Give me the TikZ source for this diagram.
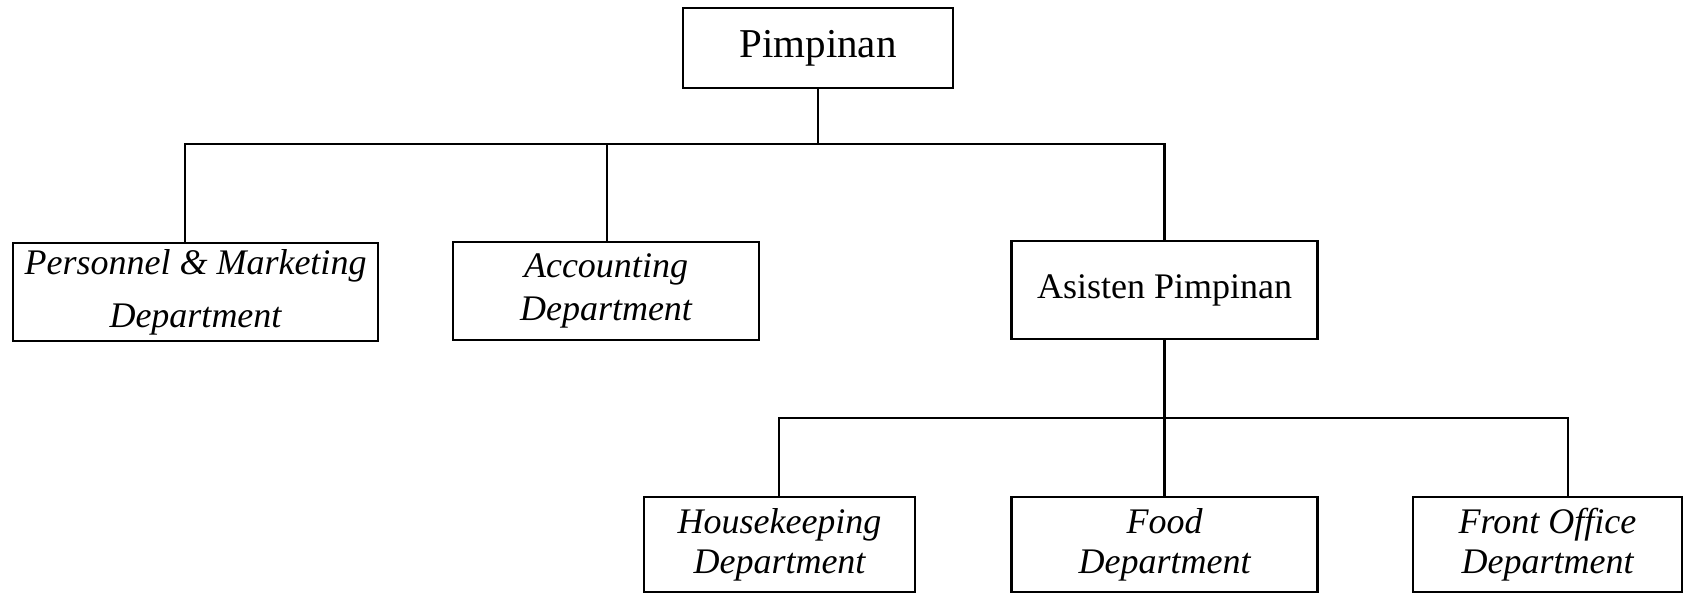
\documentclass[tikz,border=0pt]{standalone}
\usepackage{fontspec}
\setmainfont{Liberation Serif}
\begin{document}
\begin{tikzpicture}[x=0.5pt,y=-0.5pt,
  box/.style={draw,line width=1.1pt,rectangle,inner sep=0pt,align=center},
  conn/.style={line width=1.1pt},
  dept/.style={box,font=\itshape\fontsize{18}{21.5}\selectfont}]
\useasboundingbox (0,0) rectangle (1689,594);
\node[box,minimum width=135pt,minimum height=40pt,font=\fontsize{20.5}{24}\selectfont] (pim) at (818,48) {Pimpinan};
\node[dept,minimum width=182.5pt,minimum height=49pt,font=\itshape\fontsize{18}{26.5}\selectfont] (pers) at (195.5,292) {Personnel \& Marketing\\Department};
\node[dept,minimum width=153pt,minimum height=49pt] (acc) at (606,291) {Accounting\\Department};
\node[box,minimum width=153pt,minimum height=49pt,font=\fontsize{18}{22}\selectfont] (asis) at (1164.5,290) {Asisten Pimpinan};
\node[dept,minimum width=135.5pt,minimum height=47.5pt,font=\itshape\fontsize{18}{20}\selectfont] (house) at (779.5,544.5) {Housekeeping\\Department};
\node[dept,minimum width=153pt,minimum height=47.5pt,font=\itshape\fontsize{18}{20}\selectfont] (food) at (1164.5,544.5) {Food\\Department};
\node[dept,minimum width=134.5pt,minimum height=47.5pt,font=\itshape\fontsize{18}{20}\selectfont] (front) at (1547.5,544.5) {Front Office\\Department};
\coordinate (bL) at (185,144);
\coordinate (bM) at (607,144);
\coordinate (bR) at (1164.5,144);
\coordinate (cL) at (779,418);
\coordinate (cR) at (1568,418);
\draw[conn] (pim.south) -- (pim.south |- bL);
\draw[conn] (bL |- pers.north) -- (bL) -- (bR) -- (asis.north);
\draw[conn] (bM) -- (bM |- acc.north);
\draw[conn] (asis.south) -- (food.north);
\draw[conn] (cL |- house.north) -- (cL) -- (cR) -- (cR |- front.north);
\end{tikzpicture}
\end{document}
